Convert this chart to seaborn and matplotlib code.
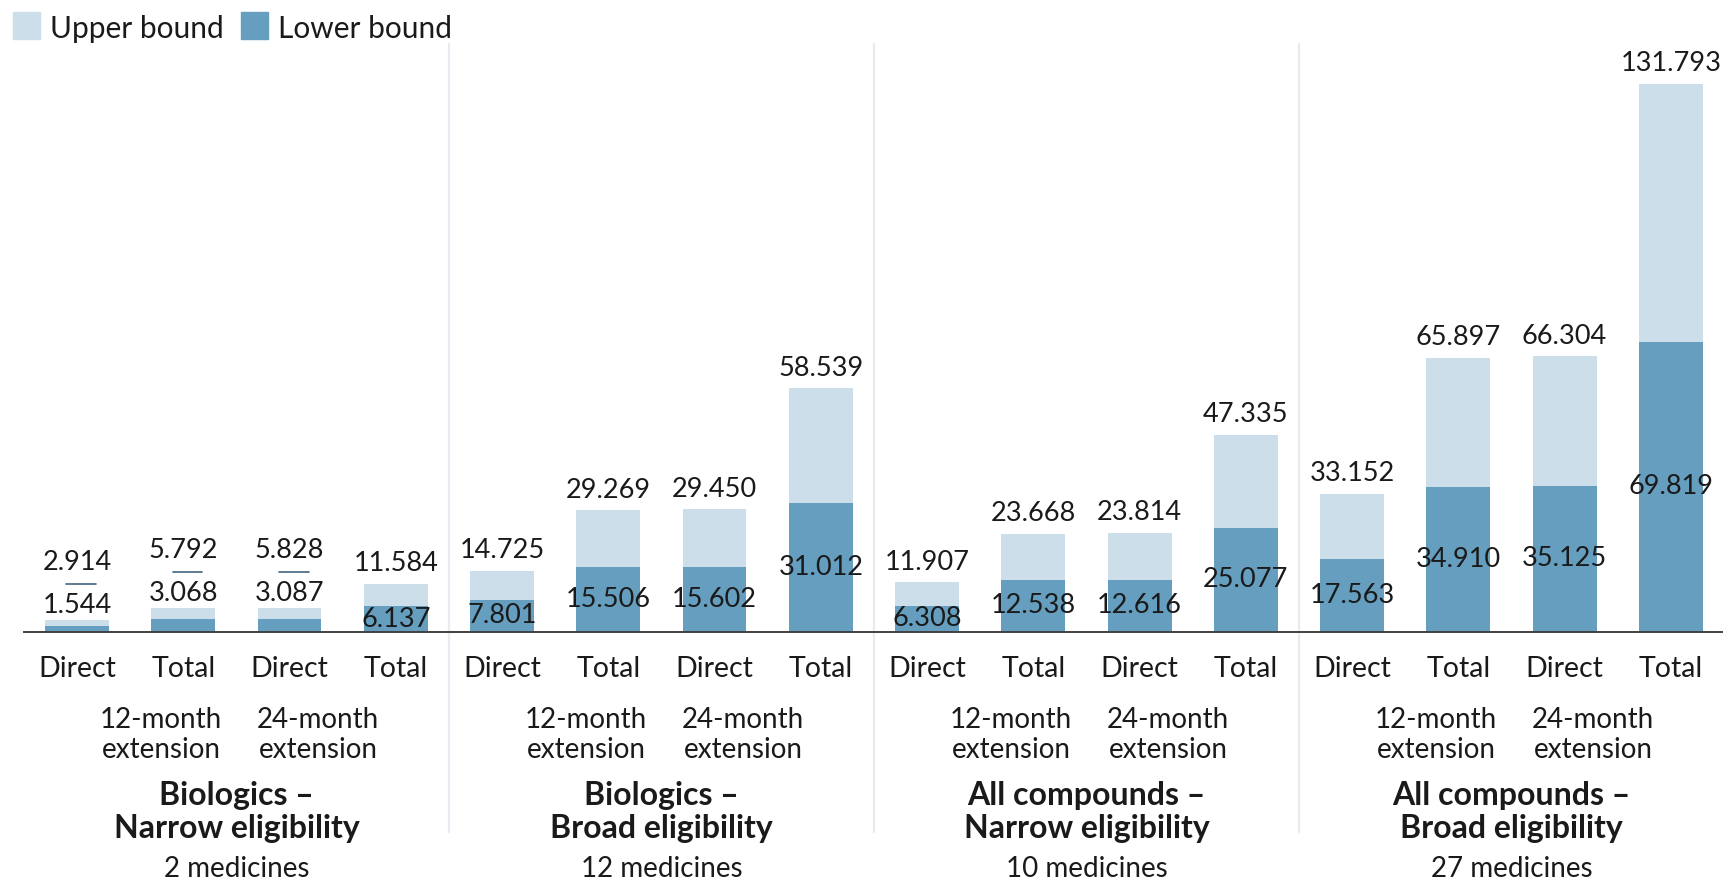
import matplotlib
matplotlib.use("Agg")
import matplotlib.pyplot as plt
import matplotlib.transforms as mtransforms
from matplotlib.patches import Rectangle
import seaborn as sns
import pandas as pd

# ---- data ----
bar_types = ["Direct", "Total", "Direct", "Total"] * 4
upper_bound = [2.914, 5.792, 5.828, 11.584,
               14.725, 29.269, 29.450, 58.539,
               11.907, 23.668, 23.814, 47.335,
               33.152, 65.897, 66.304, 131.793]
lower_bound = [1.544, 3.068, 3.087, 6.137,
               7.801, 15.506, 15.602, 31.012,
               6.308, 12.538, 12.616, 25.077,
               17.563, 34.910, 35.125, 69.819]
extensions = ["12-month\nextension", "24-month\nextension"]
group_titles = ["Biologics –\nNarrow eligibility",
                "Biologics –\nBroad eligibility",
                "All compounds –\nNarrow eligibility",
                "All compounds –\nBroad eligibility"]
group_counts = ["2 medicines", "12 medicines", "10 medicines", "27 medicines"]

LIGHT = "#CCDEEA"
DARK = "#659EBE"
TEXT = "#1A1A1A"

sns.set_theme(style="white")
plt.rcParams["font.family"] = ["Lato", "DejaVu Sans"]

W, H = 1724, 880
fig = plt.figure(figsize=(W / 100, H / 100), dpi=100)
ax_top_px, ax_base_px = 45, 632
ax = fig.add_axes([24 / W, 1 - ax_base_px / H, 1 - 24 / W, (ax_base_px - ax_top_px) / H])

ids = [f"b{i}" for i in range(len(upper_bound))]
df = pd.DataFrame({"bar": ids, "upper": upper_bound, "lower": lower_bound})

sns.barplot(data=df, x="bar", y="upper", order=ids, color=LIGHT,
            saturation=1, width=0.6, linewidth=0, edgecolor="none", ax=ax, zorder=2)
sns.barplot(data=df, x="bar", y="lower", order=ids, color=DARK,
            saturation=1, width=0.6, linewidth=0, edgecolor="none", ax=ax, zorder=3)

ymax = (ax_base_px - ax_top_px) / 4.16
ax.set_ylim(0, ymax)
ax.set_xlim(-0.5, len(ids) - 0.5)
ax.set_ylabel("")
ax.set_xlabel("")
ax.set_yticks([])
for side in ["top", "right", "left"]:
    ax.spines[side].set_visible(False)
ax.spines["bottom"].set_color("#404040")
ax.spines["bottom"].set_linewidth(1.4)
ax.spines["bottom"].set_zorder(5)

ax.set_xticks(range(len(ids)))
ax.set_xticklabels(bar_types, fontsize=20.5, color=TEXT)
ax.tick_params(axis="x", length=0, pad=17)

# value labels
fs_val = 19.5
for i, (u, l) in enumerate(zip(upper_bound, lower_bound)):
    if i < 3:
        # small bars: both labels stacked above the bar, with a leader line
        ax.annotate(f"{l:.3f}", (i, u), xytext=(0, 10.5), textcoords="offset points",
                    ha="center", va="center", fontsize=fs_val, color=TEXT, zorder=6)
        trans = mtransforms.offset_copy(ax.transData, fig=fig, x=0, y=36, units="dots")
        ax.plot([i - 0.1, i + 0.18], [u, u], color="#3F6580", lw=1.2,
                transform=trans, clip_on=False, zorder=6)
        ax.annotate(f"{u:.3f}", (i, u), xytext=(0, 41), textcoords="offset points",
                    ha="center", va="center", fontsize=fs_val, color=TEXT, zorder=6)
    else:
        ax.annotate(f"{u:.3f}", (i, u), xytext=(0, 14.5), textcoords="offset points",
                    ha="center", va="center", fontsize=fs_val, color=TEXT, zorder=6)
        ax.text(i, l / 2, f"{l:.3f}", ha="center", va="center",
                fontsize=fs_val, color=TEXT, zorder=6)

# group annotations below the axis
bt = mtransforms.blended_transform_factory(ax.transData, fig.transFigure)
for g in range(4):
    base = g * 4
    for k, ext in enumerate(extensions):
        ax.text(base + 0.79 + k * 1.48, 1 - 735 / H, ext, transform=bt,
                ha="center", va="center", fontsize=20, color=TEXT,
                linespacing=1.17)
    ax.text(base + 1.5, 1 - 812 / H, group_titles[g], transform=bt,
            ha="center", va="center", fontsize=23, fontweight="bold",
            color=TEXT, linespacing=1.15)
    ax.text(base + 1.5, 1 - 869 / H, group_counts[g], transform=bt,
            ha="center", va="center", fontsize=20, color=TEXT)

# separators between groups
for xs in [3.5, 7.5, 11.5]:
    ax.plot([xs, xs], [1 - 44 / H, 1 - 832 / H], transform=bt, color="#E5EBF0",
            lw=1.6, clip_on=False, zorder=1)

# legend
for x0, col, lab in [(13, LIGHT, "Upper bound"), (241, DARK, "Lower bound")]:
    fig.patches.append(Rectangle((x0 / W, 1 - 39 / H), 27 / W, 27 / H,
                                 transform=fig.transFigure, color=col))
    fig.text((x0 + 37) / W, 1 - 29 / H, lab, ha="left", va="center",
             fontsize=21.5, color=TEXT)

fig.savefig("out.png", dpi=100)
